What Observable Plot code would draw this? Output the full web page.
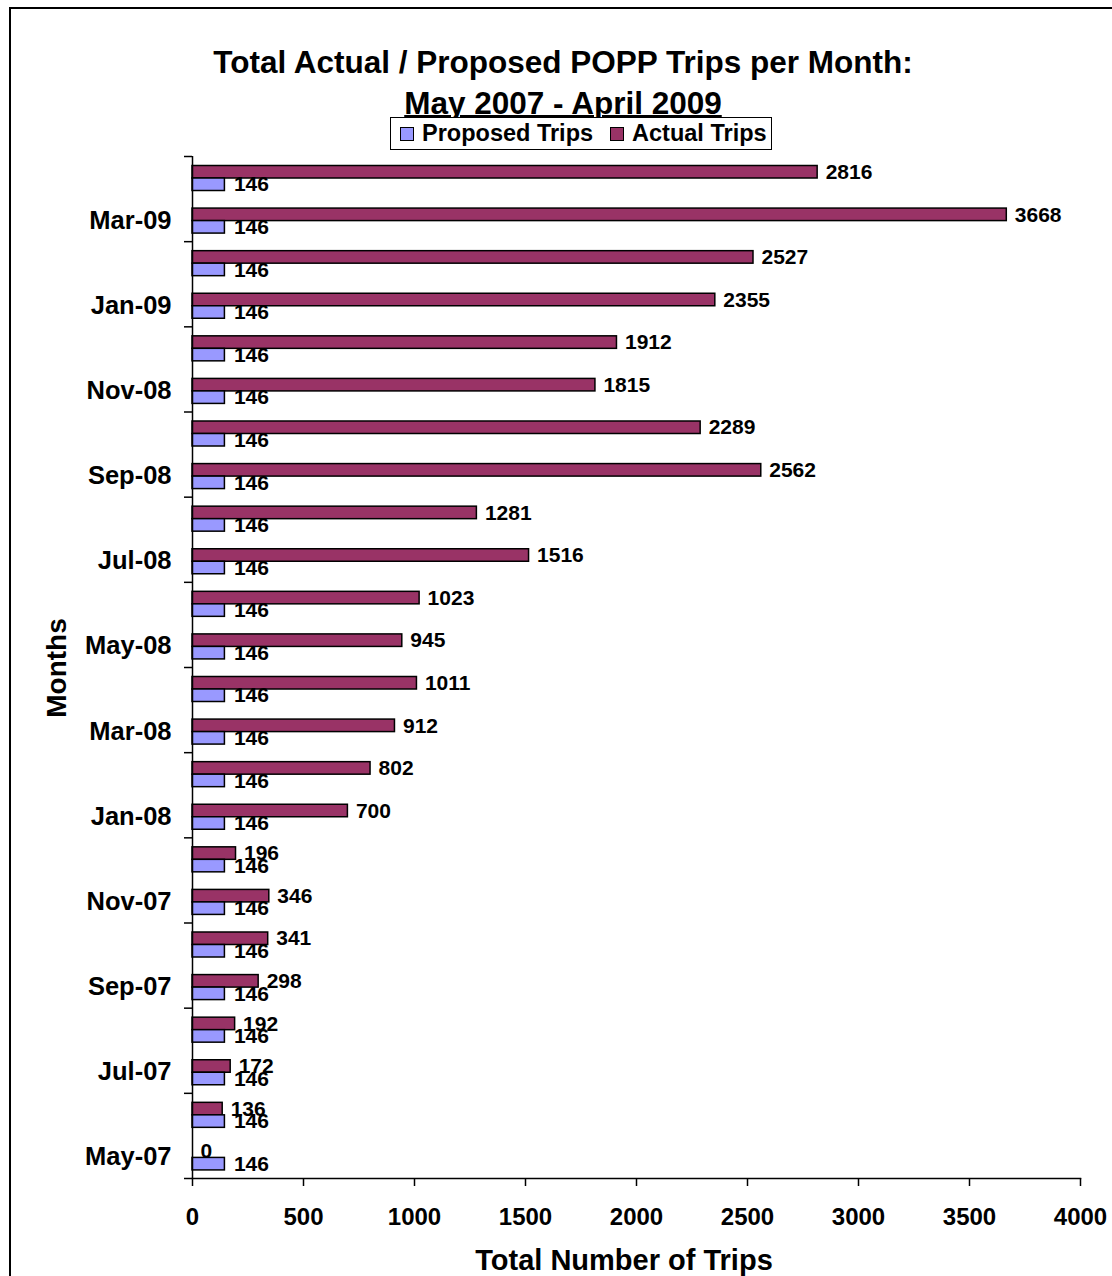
<!DOCTYPE html>
<html>
<head>
<meta charset="utf-8">
<script src="https://cdn.jsdelivr.net/npm/d3@7"></script>
<script src="https://cdn.jsdelivr.net/npm/@observablehq/plot@0.6"></script>
<style>
  html, body { margin: 0; padding: 0; overflow: hidden; background: white; }
  #wrap { position: relative; width: 1112px; height: 1276px; overflow: hidden; background: white;
          font-family: "Liberation Sans", Arial, sans-serif; font-weight: bold; color: black; }
  #border { position: absolute; left: 9px; top: 7px; width: 1120px; height: 1290px; border: 2px solid black; box-sizing: border-box; }
  #title { position: absolute; left: 10px; width: 1106px; top: 42px; text-align: center; font-size: 31.5px; line-height: 41px; }
  #title .l2 { text-decoration: underline; text-decoration-thickness: 2px; }
  #chart { position: absolute; left: 0; top: 150px; }
  #legend { position: absolute; left: 390px; top: 117px; width: 382px; height: 33px; box-sizing: border-box;
            border: 1.5px solid black; background: white; font-size: 23.5px; display: flex; align-items: center; }
  #legend .sw { width: 14px; height: 14px; border: 1.5px solid black; display: inline-block; margin-right: 8px; box-sizing: border-box; }
  #legend .item { display: flex; align-items: center; }
  #ylab { position: absolute; left: 57px; top: 668px; transform: translate(-50%, -50%) rotate(-90deg); font-size: 28px; white-space: nowrap; }
  #xlab { position: absolute; left: 624px; top: 1260px; transform: translate(-50%, -50%); font-size: 29px; white-space: nowrap; }
</style>
</head>
<body>
<div id="wrap">
  <div id="border"></div>
  <div id="title">Total Actual / Proposed POPP Trips per Month:<br><span class="l2">May 2007 - April 2009</span></div>
  <div id="chart"></div>
  <div id="legend"></div>
  <div id="ylab">Months</div>
  <div id="xlab">Total Number of Trips</div>
</div>
<script>
const months = ["May-07","Jun-07","Jul-07","Aug-07","Sep-07","Oct-07","Nov-07","Dec-07",
                "Jan-08","Feb-08","Mar-08","Apr-08","May-08","Jun-08","Jul-08","Aug-08",
                "Sep-08","Oct-08","Nov-08","Dec-08","Jan-09","Feb-09","Mar-09","Apr-09"];
const actualTrips = [0,136,172,192,298,341,346,196,700,802,912,1011,945,1023,1516,1281,
                     2562,2289,1815,1912,2355,2527,3668,2816];
const proposedTrips = [146,146,146,146,146,146,146,146,146,146,146,146,
                       146,146,146,146,146,146,146,146,146,146,146,146];
const seriesNames = ["Proposed Trips", "Actual Trips"];
const seriesColors = ["#9999FF", "#993366"];
const xTicks = [0,500,1000,1500,2000,2500,3000,3500,4000];

const data = months.map((m, i) => ({month: m, actual: actualTrips[i], proposed: proposedTrips[i]}));
const labelMonths = months.filter((m, i) => i % 2 === 0);
const yDomain = months.slice().reverse();

const W = 1112, H = 1126, mT = 6, mB = 98, mL = 192, mR = 32;
const bw = (H - mT - mB) / months.length;
const font = "Liberation Sans, Arial, sans-serif";

const plot = Plot.plot({
  width: W, height: H,
  marginTop: mT, marginBottom: mB, marginLeft: mL, marginRight: mR,
  style: {fontFamily: font, fontWeight: "bold", color: "black", background: "transparent"},
  x: {domain: [0, 4000], round: false},
  y: {domain: yDomain, paddingInner: 0, paddingOuter: 0, round: false},
  marks: [
    Plot.barX(data, {x: "actual", y: "month", fill: seriesColors[1], stroke: "black", strokeWidth: 1.5,
                     insetTop: 9.5, insetBottom: bw - 22}),
    Plot.barX(data, {x: "proposed", y: "month", fill: seriesColors[0], stroke: "black", strokeWidth: 1.5,
                     insetTop: 22, insetBottom: bw - 34.5}),
    Plot.text(data, {x: "actual", y: "month", text: d => String(d.actual), textAnchor: "start",
                     dx: 8, dy: -(bw/2 - 15.75), fontSize: 21, fontWeight: "bold", fill: "black"}),
    Plot.text(data, {x: "proposed", y: "month", text: d => String(d.proposed), textAnchor: "start",
                     dx: 9, dy: 28.25 - bw/2, fontSize: 21, fontWeight: "bold", fill: "black"}),
    Plot.ruleX([0], {stroke: "black", strokeWidth: 1.5}),
    Plot.frame({anchor: "bottom", stroke: "black", strokeWidth: 1.5}),
    Plot.axisX({ticks: xTicks, tickSize: 8, tickPadding: 21, fontSize: 24, fontWeight: "bold",
                stroke: "black", strokeWidth: 1.5, label: null, tickFormat: d => String(d)}),
    Plot.axisY({ticks: labelMonths, tickSize: 0, tickPadding: 21, fontSize: 25.5, fontWeight: "bold", label: null}),
    Plot.axisY({ticks: labelMonths, tickSize: 8, tickFormat: () => "", dy: bw/2, label: null,
                stroke: "black", strokeWidth: 1.5}),
    Plot.axisY({ticks: [yDomain[0]], tickSize: 8, tickFormat: () => "", dy: -bw/2, label: null,
                stroke: "black", strokeWidth: 1.5})
  ]
});
document.getElementById("chart").appendChild(plot);

const legend = document.getElementById("legend");
const legendOrder = [0, 1];
const gaps = [9, 17];
legendOrder.forEach((k, j) => {
  const it = document.createElement("div");
  it.className = "item";
  it.style.marginLeft = gaps[j] + "px";
  const sw = document.createElement("span");
  sw.className = "sw";
  sw.style.background = seriesColors[k];
  const t = document.createElement("span");
  t.textContent = seriesNames[k];
  it.appendChild(sw); it.appendChild(t);
  legend.appendChild(it);
});
</script>
</body>
</html>
